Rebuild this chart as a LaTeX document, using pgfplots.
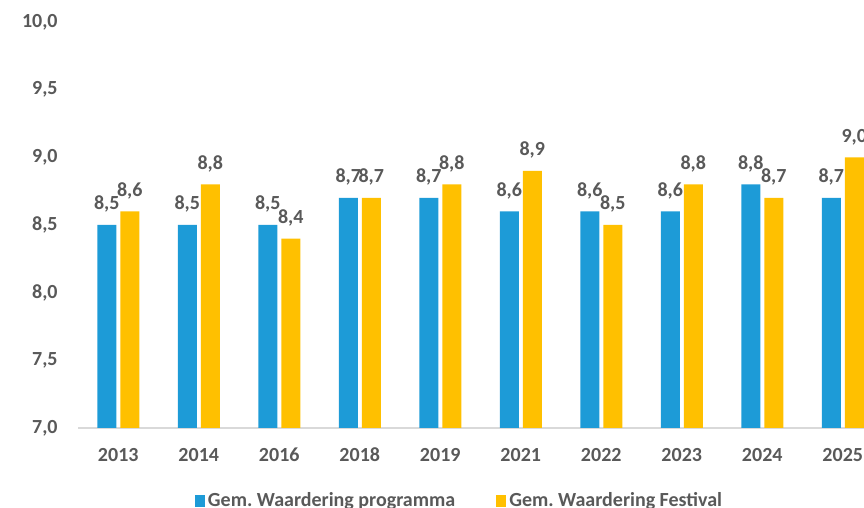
\documentclass[border=0pt]{standalone}
\usepackage{pgfplots}
\pgfplotsset{compat=1.18}
\usepackage{fontspec}
\setmainfont{Carlito}
\definecolor{barblue}{RGB}{29,155,215}
\definecolor{baryellow}{RGB}{255,192,0}
\definecolor{txtgray}{RGB}{89,89,89}
\definecolor{basegray}{RGB}{217,217,217}
\newcommand{\lblfont}{\bfseries\fontsize{10bp}{12bp}\selectfont}
\begin{document}
\frenchspacing
\begin{tikzpicture}
\begin{axis}[
  at={(39bp,40bp)}, anchor=south west,
  scale only axis, width=402.5bp, height=203bp,
  xmin=-0.5, xmax=9.5, ymin=7, ymax=10,
  ytick={7,7.5,8,8.5,9,9.5,10},
  xtick={0,1,2,3,4,5,6,7,8,9},
  xticklabels={2013,2014,2016,2018,2019,2021,2022,2023,2024,2025},
  axis lines*=left,
  axis line style={-},
  y axis line style={draw=none},
  x axis line style={draw=basegray, line width=0.8bp},
  major tick length=0pt,
  tick label style={font=\lblfont, text=txtgray},
  yticklabel style={anchor=east, inner sep=0pt, xshift=-10bp},
  xticklabel style={anchor=base, inner sep=0pt, yshift=-16.8bp},
  /pgf/number format/assume math mode=true,
  /pgf/number format/fixed,
  /pgf/number format/fixed zerofill,
  /pgf/number format/precision=1,
  /pgf/number format/use comma,
  ybar, bar width=9.5bp,
  nodes near coords,
  every node near coord/.append style={font=\lblfont, text=txtgray, anchor=base, inner sep=0pt, yshift=7.5bp},
  legend style={at={(axis description cs:0.1453,-0.2005)}, anchor=south west,
    draw=none, fill=none, inner sep=0pt, outer sep=0pt, legend columns=2,
    font=\lblfont, text=txtgray, nodes={inner sep=0pt},
    /tikz/every odd column/.append style={column sep=1.5bp},
    /tikz/every even column/.append style={column sep=20.5bp}},
  legend image code/.code={\fill[#1] (0bp,-2.9bp) rectangle (5bp,3.1bp);},
]
\addplot[fill=barblue, draw=none, bar shift=-5.75bp] coordinates {
 (0,8.5) (1,8.5) (2,8.5) (3,8.7) (4,8.7) (5,8.6) (6,8.6) (7,8.6) (8,8.8) (9,8.7)};
\addlegendentry{Gem. Waardering programma}
\addplot[fill=baryellow, draw=none, bar shift=5.75bp] coordinates {
 (0,8.6) (1,8.8) (2,8.4) (3,8.7) (4,8.8) (5,8.9) (6,8.5) (7,8.8) (8,8.7) (9,9.0)};
\addlegendentry{Gem. Waardering Festival}
\end{axis}
\pgfresetboundingbox
\useasboundingbox (0,0) rectangle (432bp,254bp);
\end{tikzpicture}
\end{document}
